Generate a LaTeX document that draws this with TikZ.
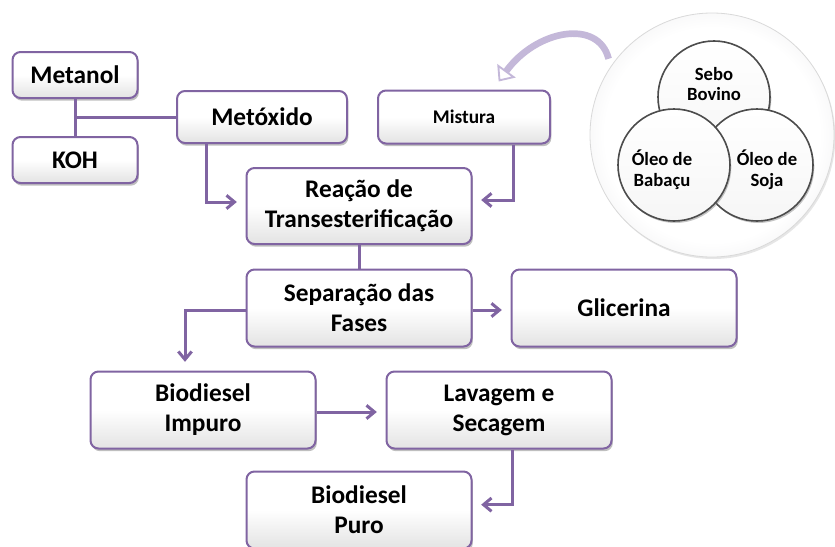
\documentclass[tikz,border=0pt]{standalone}
\usepackage{fontspec}
\setmainfont{Carlito}
\usepackage{tikz}
\usetikzlibrary{positioning, arrows.meta, calc, shadows}
\definecolor{flowpurple}{HTML}{8064A2}
\definecolor{arcpurple}{HTML}{C4B8D9}
\definecolor{discrim}{HTML}{C9C9CE}
\pgfdeclareradialshading{bigdiscshade}{\pgfpoint{0bp}{0bp}}{color(0bp)=(white); color(22bp)=(white); color(50bp)=(discrim)}

\begin{document}
\begin{tikzpicture}[
    x=0.75pt, y=-0.75pt,
    stage/.style={rectangle, draw=flowpurple, line width=1.5pt, rounded corners=6pt, top color=white, bottom color=gray!22, middle color=white, align=center, font=\fontsize{19}{22.5}\selectfont\bfseries, minimum width=168.75pt, minimum height=57.75pt, drop shadow={shadow xshift=1pt, shadow yshift=-2pt, opacity=0.5}},
    link/.style={draw=flowpurple, line width=2.25pt},
    flow/.style={link, -{Straight Barb[length=6pt, width=10pt]}, shorten >=6.5pt},
    disc/.style={circle, draw=black!70, line width=1.2pt, top color=white, bottom color=gray!7, minimum size=84pt, drop shadow={shadow xshift=1pt, shadow yshift=-1.5pt, opacity=0.45}},
    disctext/.style={font=\fontsize{14}{15.5}\selectfont\bfseries, align=center},
    arcarrow/.style={draw=arcpurple, line width=5pt, -{Triangle[width=17pt, length=10pt, fill=white, line width=1.4pt]}}
]
    \useasboundingbox (0, 0) rectangle (835, 546);
    \clip (0, 0) rectangle (835, 546);
    % inputs
    \node[stage, minimum width=93.75pt, minimum height=34.5pt] (metanol) at (75, 75) {Metanol};
    \node[stage, minimum width=93.75pt, minimum height=34.5pt] (koh) at (75, 160) {KOH};
    \node[stage, minimum width=127.5pt, minimum height=39pt] (metoxido) at (262, 117) {Metóxido};
    \node[stage, minimum width=129pt, minimum height=39.75pt, font=\fontsize{14.5}{17}\selectfont\bfseries] (mistura) at (464, 117) {Mistura};
    % process
    \node[stage, minimum height=57pt] (reacao) at (359, 206) {Reação de\\Transesterificação};
    \node[stage] (separacao) at (359, 308) {Separação das\\Fases};
    \node[stage] (glicerina) at (624, 308) {Glicerina};
    \node[stage] (impuro) at (203, 410) {Biodiesel\\Impuro};
    \node[stage] (lavagem) at (499, 410) {Lavagem e\\Secagem};
    \node[stage] (puro) at (359, 510) {Biodiesel\\Puro};
    % oils
    \node[circle, minimum size=183pt, draw=gray!30, line width=0.6pt, shading=bigdiscshade, drop shadow={shadow xshift=1pt, shadow yshift=-1.5pt, opacity=0.2}] (oleos) at (712, 135) {};
    \draw[arcarrow, shorten <=6pt] (oleos.146) .. controls +(-12, -48) and +(38, -52) .. ([xshift=26pt, yshift=6pt]mistura.north);
    \node[disc] (sebo) at (714, 97) {};
    \node[disc] (soja) at (757, 165) {};
    \node[disc] (babacu) at (674, 165) {};
    \node[disctext] (sebotext) at (714, 84) {Sebo\\Bovino};
    \node[disctext] (babacutext) at (662, 170) {Óleo de\\Babaçu};
    \node[disctext] (sojatext) at (767, 170) {Óleo de\\Soja};
    % connectors
    \draw[link] (metanol) -- (koh);
    \draw[link] (metoxido.west) -- (metoxido.west -| metanol.south);
    \draw[flow] ([xshift=23pt]metoxido.south west) |- ([yshift=3pt]reacao.west);
    \draw[flow] ([xshift=37pt]mistura.south) |- ([yshift=4.5pt]reacao.east);
    \draw[link] (reacao) -- (separacao);
    \draw[flow] ([yshift=-1.5pt]separacao.east) -- ([yshift=-1.5pt]glicerina.west);
    \draw[flow] ([yshift=-1.5pt]separacao.west) -| ([xshift=-13.5pt]impuro.north);
    \draw[flow] ([yshift=-1.5pt]impuro.east) -- ([yshift=-1.5pt]lavagem.west);
    \draw[flow] ([xshift=10pt]lavagem.south) |- ([yshift=4pt]puro.east);
\end{tikzpicture}
\end{document}
